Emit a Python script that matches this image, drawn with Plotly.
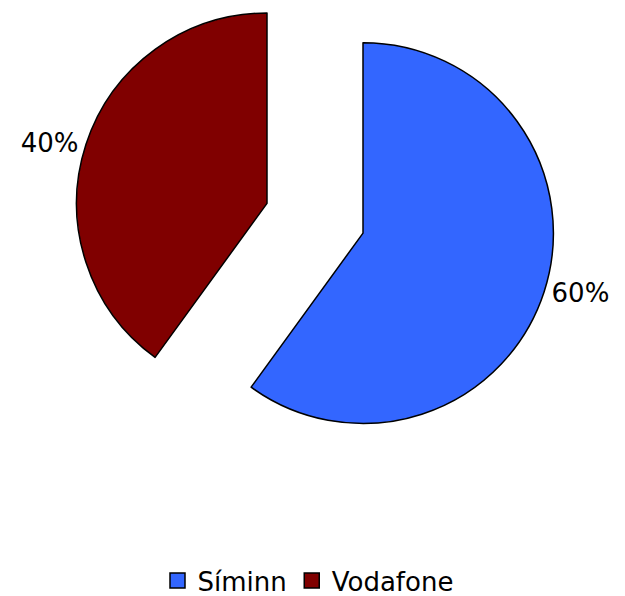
import plotly.graph_objects as go

# market share data
labels = ['Síminn', 'Vodafone']
shares = [60, 40]
colors = ['#3366FF', '#800000']

W, H = 625, 596
R = 192
# exploded slice centres (pixels inside the figure, page body adds 8px)
centres = [(355, 222), (259, 192)]


def domain_for(cx, cy):
    return dict(x=[(cx - R) / W, (cx + R) / W],
                y=[max(0, 1 - (cy + R) / H), min(1, 1 - (cy - R) / H)])


fig = go.Figure()

# one pie per exploded slice, the other slice left invisible
for i, lab in enumerate(labels):
    cols = ['rgba(0,0,0,0)'] * len(labels)
    cols[i] = colors[i]
    widths = [0] * len(labels)
    widths[i] = 1.5
    tmpl = [''] * len(labels)
    tmpl[i] = '%{percent:.0%}'
    pos = ['none'] * len(labels)
    pos[i] = 'outside'
    fig.add_trace(go.Pie(
        labels=labels, values=shares, sort=False, direction='clockwise', rotation=0,
        marker=dict(colors=cols, line=dict(color='black', width=widths)),
        texttemplate=tmpl, textposition=pos,
        outsidetextfont=dict(size=26, color='black', family='DejaVu Sans'),
        showlegend=False, hoverinfo='skip',
        domain=domain_for(*centres[i]),
    ))

# legend entries
for lab, c in zip(labels, colors):
    fig.add_trace(go.Scatter(
        x=[None], y=[None], mode='markers', name=lab,
        marker=dict(symbol='square', size=15, color=c, line=dict(color='black', width=1.5)),
    ))

fig.update_layout(
    width=W, height=H,
    margin=dict(l=0, r=0, t=0, b=0),
    paper_bgcolor='white', plot_bgcolor='white',
    font=dict(family='DejaVu Sans', size=26, color='black'),
    xaxis=dict(visible=False), yaxis=dict(visible=False),
    legend=dict(orientation='h', x=0.48, xanchor='center', y=0.0, yanchor='bottom',
                font=dict(size=26), itemwidth=30),
)

fig.write_html("out.html")
